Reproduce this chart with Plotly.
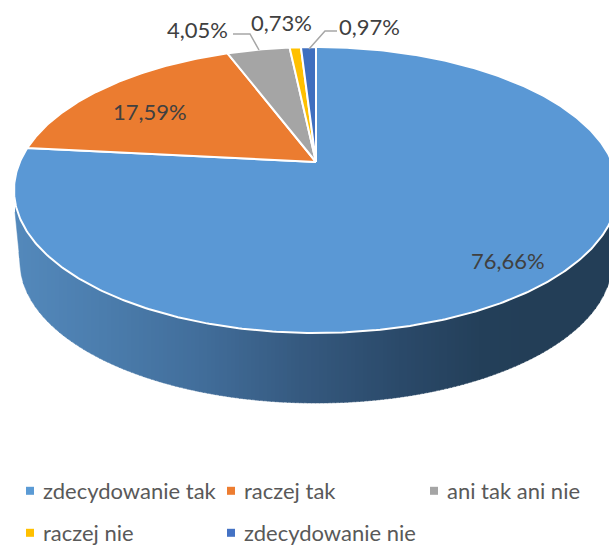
import numpy as np
import plotly.graph_objects as go

categories = ["zdecydowanie tak", "raczej tak", "ani tak ani nie", "raczej nie", "zdecydowanie nie"]
values = [76.66, 17.59, 4.05, 0.73, 0.97]
labels = ["76,66%", "17,59%", "4,05%", "0,73%", "0,97%"]
colors = ["#5B9BD5", "#ED7D31", "#A5A5A5", "#FFC000", "#4472C4"]
slice_colors = ["#5A98D5", "#EB7C30", "#A5A5A5", "#FFC000", "#3F6FBF"]

W, H = 609, 547
CX, CY = 316.0, 162.0       # apex of the tilted pie
TOP, BOTTOM = 47.0, 333.0   # top-face vertical extent
HALF_W = 302.0              # top-face half width
D_UP, D_DOWN = CY - TOP, BOTTOM - CY
K = (D_DOWN - D_UP) / (D_DOWN + D_UP)
A = D_UP * (1 + K)
B = HALF_W * np.sqrt(1 - K ** 2)
E_CY, E_RY = (TOP + BOTTOM) / 2, (BOTTOM - TOP) / 2
BASE_CY, BASE_RY, BASE_RX = 262.0, 141.0, 296.0


def project(theta):
    w = 1 + K * np.cos(theta)
    return CX + B * np.sin(theta) / w, CY - A * np.cos(theta) / w


fig = go.Figure()

# Side wall, shaded left to right
stop_x = [14, 100, 200, 300, 400, 480, 540, 620]
stop_rgb = [(84, 137, 188), (76, 126, 174), (66, 110, 155), (54, 90, 128),
            (43, 74, 106), (36, 64, 90), (35, 62, 87), (35, 62, 87)]
edges = np.arange(15.0, 618.0, 4.0)
for x0, x1 in zip(edges[:-1], edges[1:]):
    xs = np.linspace(x0, x1 + 0.6, 5)
    upper = E_CY + E_RY * np.sqrt(np.clip(1 - ((xs - CX) / HALF_W) ** 2, 0, 1))
    lower = BASE_CY + BASE_RY * np.sqrt(np.clip(1 - ((xs - CX) / BASE_RX) ** 2, 0, 1))
    lower = np.where(xs < CX - BASE_RX, np.interp(xs, [15, CX - BASE_RX], [212, BASE_CY]), lower)
    xm = (x0 + x1) / 2
    rgb = [int(np.interp(xm, stop_x, [c[i] for c in stop_rgb])) for i in range(3)]
    col = f"rgb({rgb[0]},{rgb[1]},{rgb[2]})"
    fig.add_trace(go.Scatter(
        x=np.r_[xs, xs[::-1]], y=np.r_[upper, lower[::-1]], mode="lines", fill="toself",
        fillcolor=col, line=dict(color=col, width=0.5), hoverinfo="skip", showlegend=False))

# Top face
start = 0.0
total = sum(values)
for name, val, col in zip(categories, values, slice_colors):
    sweep = val / total * 2 * np.pi
    th = np.linspace(start, start + sweep, max(int(val * 6), 8))
    px, py = project(th)
    fig.add_trace(go.Scatter(
        x=np.r_[CX, px, CX], y=np.r_[CY, py, CY], mode="lines", fill="toself", fillcolor=col,
        line=dict(color="white", width=2), name=name, hoverinfo="skip", showlegend=False))
    start += sweep

# Legend entries
leg_x = [3, 204, 407, 3, 204]
leg_y = [491, 491, 491, 533, 533]
layout_legends = {}
for i, (name, col) in enumerate(zip(categories, colors)):
    key = "legend" if i == 0 else f"legend{i + 1}"
    fig.add_trace(go.Scatter(
        x=[None], y=[None], mode="markers", name=name, legend=key,
        marker=dict(symbol="square", size=8, color=col), showlegend=True))
    layout_legends[key] = dict(
        x=leg_x[i] / W, y=1 - leg_y[i] / H, xanchor="left", yanchor="middle",
        bgcolor="rgba(0,0,0,0)", font=dict(family="Lato", size=22, color="#595959"),
        itemclick=False, itemdoubleclick=False)

# Data labels
label_x = [508, 150, 197, 281, 369]
label_y = [260, 111, 29, 22, 26]
annotations = [
    dict(x=x, y=y, text=t, showarrow=False, xref="x", yref="y",
         font=dict(family="Lato", size=22, color="#404040"))
    for x, y, t in zip(label_x, label_y, labels)
]

leader = dict(color="#A6A6A6", width=1.5)
shapes = [
    dict(type="path", path="M233,34 L250,34 L259,50", line=leader, xref="x", yref="y"),
    dict(type="path", path="M337,31 L325,31 L309,49", line=leader, xref="x", yref="y"),
]

fig.update_layout(
    width=W, height=H, margin=dict(l=0, r=0, t=0, b=0, autoexpand=False),
    paper_bgcolor="white", plot_bgcolor="white",
    xaxis=dict(range=[0, W], visible=False, fixedrange=True),
    yaxis=dict(range=[H, 0], visible=False, fixedrange=True),
    annotations=annotations, shapes=shapes, **layout_legends)

post = """
document.body.style.margin = '0';
document.documentElement.style.overflow = 'hidden';
function nudge() {
  document.querySelectorAll('.legendsymbols').forEach(function (g) {
    g.setAttribute('transform', 'translate(7,0)');
  });
}
nudge();
setTimeout(nudge, 50);
"""
fig.write_html("out.html", config=dict(displayModeBar=False), post_script=post)
